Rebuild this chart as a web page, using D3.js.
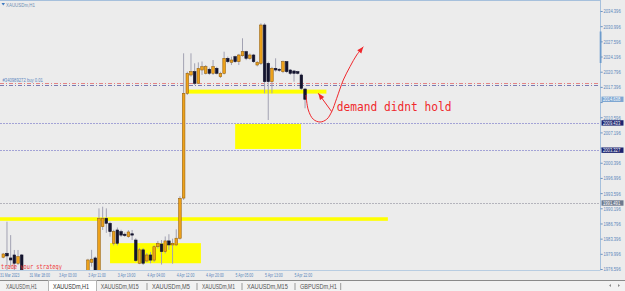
<!DOCTYPE html>
<html><head><meta charset="utf-8">
<script src="https://cdn.jsdelivr.net/npm/d3@7/dist/d3.min.js"></script>
<style>
html,body{margin:0;padding:0;background:#ececec;overflow:hidden}
svg{display:block}
</style></head><body>
<svg id="c" width="625" height="291"></svg>
<script>
// ---------------- DATA ----------------
const symbolTitle = "XAUUSDm,H1";
const orderLabel = "#340989272 buy 0.01";
// H1 candles, index 0 = first bar on screen (bars 6..22 are below the visible range)
const barOpen  = [1979.34,1980.23,1979.18,1979.85,1977.99,1979.85,null,null,null,null,null,null,null,null,null,null,null,null,null,null,null,null,null,1975.5,1978.2,1979.18,1975.5,1986.2,1988.07,1986.95,1982.47,1985.45,1985.07,1984.5,1983.95,1984.6,1983.2,1978.0,1981.0,1978.5,1979.85,1978.7,1981.7,1982.3,1980.6,1983.0,1982.1,1982.1,1983.6,1992.6,2016.07,2020.17,2020.91,2018.31,2021.29,2020.55,2021.45,2020.55,2021.67,2019.79,2020.55,2023.91,2023.02,2024.27,2023.15,2024.49,2025.39,2023.91,2024.65,2022.41,2022.79,2031.37,2022.79,2018.67,2021.67,2021.45,2020.91,2023.15,2021.29,2021.07,2020.91,2020.17,2017.03];
const barHigh  = [1980.3,1987.31,1984.3,1980.97,1980.97,1980.07,null,null,null,null,null,null,null,null,null,null,null,null,null,null,null,null,null,1979.0,1981.0,1979.5,1990.3,1990.67,1990.3,1987.3,1985.5,1986.0,1985.5,1984.9,1985.4,1985.45,1983.6,1981.4,1981.4,1980.3,1980.5,1982.0,1983.0,1983.2,1984.0,1984.5,1983.5,1985.6,1993.0,2025.03,2020.91,2025.03,2022.79,2023.0,2023.2,2022.4,2021.8,2023.53,2022.0,2020.9,2025.39,2024.3,2024.27,2024.5,2024.9,2028.39,2025.6,2025.0,2024.9,2023.3,2031.75,2031.75,2023.15,2022.0,2023.91,2021.7,2023.4,2023.3,2021.5,2021.3,2021.1,2020.5,2017.2];
const barLow   = [1979.1,1976.49,1977.23,1976.4,1977.6,1975.0,null,null,null,null,null,null,null,null,null,null,null,null,null,null,null,null,null,1975.0,1977.23,1975.0,1974.0,1985.45,1984.8,1983.95,1982.0,1982.0,1983.9,1983.9,1983.7,1983.2,1978.3,1977.8,1977.6,1978.2,1978.0,1978.3,1981.3,1977.7,1980.2,1981.0,1977.9,1981.9,1983.3,1992.17,2015.69,2019.79,2017.93,2018.3,2020.2,2020.3,2020.2,2020.17,2020.3,2019.5,2020.3,2022.8,2022.4,2022.9,2022.4,2024.27,2023.5,2023.6,2022.9,2022.1,2022.41,2016.07,2010.09,2016.07,2020.91,2020.9,2020.6,2020.6,2020.2,2018.67,2020.3,2016.8,2012.71];
const barClose = [1980.07,1979.63,1978.73,1977.99,1979.47,1976.0,null,null,null,null,null,null,null,null,null,null,null,null,null,null,null,null,null,1978.73,1978.9,1975.5,1988.07,1988.07,1986.95,1985.07,1985.07,1982.47,1984.3,1984.2,1985.0,1984.3,1978.6,1981.0,1978.0,1979.85,1978.7,1981.7,1982.47,1980.6,1983.0,1982.1,1982.47,1983.6,1992.5,2016.07,2020.55,2020.91,2018.31,2021.67,2022.03,2022.03,2020.55,2022.03,2020.55,2020.55,2023.91,2023.15,2023.53,2023.15,2024.65,2025.39,2023.91,2024.65,2023.15,2023.02,2031.37,2018.67,2018.67,2021.67,2021.29,2021.29,2023.15,2020.91,2020.55,2020.55,2020.55,2017.19,2014.73];

const priceTicks = [2034.396,2030.996,2027.596,2024.196,2020.796,2017.396,2013.996,2010.596,2007.196,2003.796,2000.396,1996.996,1993.596,1990.196,1986.796,1983.396,1979.996,1976.596];
const timeLabels = ["31 Mar 2023","31 Mar 18:00","3 Apr 03:00","3 Apr 11:00","3 Apr 19:00","4 Apr 04:00","4 Apr 12:00","4 Apr 20:00","5 Apr 05:00","5 Apr 13:00","5 Apr 22:00"];
const timeLabelBars = [0,8,16,24,32,40,48,56,64,72,80];

const levelPrices = [2009.433,2003.327,1991.491];
const levelKinds  = ["blue","blue","gray"];
const orderPrices = [2018.31,2017.86];
const orderKinds  = ["red","blue"];
const bidPrice = 2014.73;
const bidLabel = "2014.638";

const zoneStart  = [49.9,63.0,-1.5,29.0];
const zoneEnd    = [87.8,80.9,104.5,53.7];
const zoneTop    = [2016.9,2009.2,1988.3,1982.5];
const zoneBottom = [2016.0,2003.6,1987.5,1978.0];

const curveBars   = [82.26,82.88,84.24,86.06,87.88,89.24,90.6,92.39,94.21,96.03,97.83];
const curvePrices = [2015.69,2012.33,2010.25,2009.64,2010.25,2011.95,2014.95,2019.05,2022.03,2024.65,2026.51];
const arrow2Bars   = [89.24,85.6];
const arrow2Prices = [2011.95,2016.07];
const noteText = "demand didnt hold";
const noteBar = 90.6, notePrice = 2012.1;
const footerText = "trade your strategy";

const tabNames = ["XAUUSDm,H1","XAUUSDm,H1","XAUUSDm,M15","XAUUSDm,M5","XAUUSDm,M1","XAUUSDm,M15","GBPUSDm,H1"];
const activeTab = 1;

// ---------------- DRAW ----------------
const W = 625, H = 291;
const plotR = 600.5, plotT = 1, plotB = 270;
const svg = d3.select("#c");
svg.append("rect").attr("width",W).attr("height",H).attr("fill","#ececec");

const x = d3.scaleLinear().domain([0,82]).range([3.3,305.06]);
const y = d3.scaleLinear().domain([1976.596,2034.396]).range([269.5,11.5]);

svg.append("defs").append("clipPath").attr("id","plot")
  .append("rect").attr("x",0).attr("y",plotT).attr("width",plotR).attr("height",plotB-plotT);

// text drawn natural, then horizontally compressed by a transform (screenshot is squeezed)
function label(parent,px,py,str,size,family,fill,opt){
  opt=opt||{};
  const gg=parent.append("g").attr("transform",`translate(${px},${py})`);
  const t=gg.append("text").attr("x",0).attr("y",0).attr("font-family",family)
    .attr("font-size",size).attr("fill",fill).text(str);
  if(opt.anchor) t.attr("text-anchor",opt.anchor);
  const nat=t.node().getComputedTextLength();
  const sx = opt.width ? opt.width/nat : (opt.sx||1);
  gg.attr("transform",`translate(${px},${py}) scale(${sx},1)`);
  return t;
}
const SANS="Liberation Sans, Arial, sans-serif", MONO="DejaVu Sans Mono, monospace";

const g = svg.append("g").attr("clip-path","url(#plot)");

// zones
g.selectAll("rect.zone").data(zoneStart.map((s,i)=>i)).join("rect")
  .attr("class","zone")
  .attr("x",i=>x(zoneStart[i]))
  .attr("width",i=>x(zoneEnd[i])-x(zoneStart[i]))
  .attr("y",i=>y(zoneTop[i]))
  .attr("height",i=>y(zoneBottom[i])-y(zoneTop[i]))
  .attr("fill","#ffff00");

// dotted levels
g.selectAll("line.lvl").data(levelPrices).join("line")
  .attr("x1",0).attr("x2",plotR)
  .attr("y1",d=>Math.round(y(d))+0.5).attr("y2",d=>Math.round(y(d))+0.5)
  .attr("stroke",(d,i)=>levelKinds[i]==="blue"?"#a3a3d6":"#b4b4bc")
  .attr("stroke-width",1).attr("stroke-dasharray","2,1");

// order lines
g.selectAll("line.ord").data(orderPrices).join("line")
  .attr("x1",0).attr("x2",plotR)
  .attr("y1",d=>Math.round(y(d))+0.5).attr("y2",d=>Math.round(y(d))+0.5)
  .attr("stroke",(d,i)=>orderKinds[i]==="red"?"#e48585":"#7a7ab2")
  .attr("stroke-width",1).attr("stroke-dasharray","4,2,1,2");

label(svg,2.5,y(orderPrices[0])-1.4,orderLabel,5.5,SANS,"#5b86c0",{width:40.5});

// candles
const idx = barOpen.map((d,i)=>i).filter(i=>barOpen[i]!==null);
const cg = g.append("g");
cg.selectAll("line.wick").data(idx).join("line")
  .attr("x1",i=>x(i)).attr("x2",i=>x(i))
  .attr("y1",i=>y(barHigh[i])).attr("y2",i=>y(barLow[i]))
  .attr("stroke","#a2a2b2").attr("stroke-width",1);
cg.selectAll("rect.body").data(idx).join("rect")
  .attr("x",i=>x(i)-1.3).attr("width",2.6)
  .attr("y",i=>y(Math.max(barOpen[i],barClose[i])))
  .attr("height",i=>Math.max(1,Math.abs(y(barOpen[i])-y(barClose[i]))))
  .attr("fill",i=>barClose[i]>=barOpen[i]?"#eea21a":"#14142e")
  .attr("stroke",i=>barClose[i]>=barOpen[i]?"#9a6410":"#14142e")
  .attr("stroke-width",0.6);

// annotation
const RED="#f0282d";
const line = d3.line().curve(d3.curveCatmullRom.alpha(0.5));
const curvePts = curveBars.map((b,i)=>[x(b),y(curvePrices[i])]);
g.append("path").attr("d",line(curvePts)).attr("fill","none").attr("stroke",RED).attr("stroke-width",1);
function arrowHead(p0,p1){
  const a = Math.atan2(p1[1]-p0[1],p1[0]-p0[0]);
  const L=6.5, Wd=2.6;
  const bx=p1[0]-L*Math.cos(a), by=p1[1]-L*Math.sin(a);
  const pts=[p1,[bx+Wd*Math.sin(a),by-Wd*Math.cos(a)],[bx-Wd*Math.sin(a),by+Wd*Math.cos(a)]];
  g.append("path").attr("d","M"+pts.map(p=>p.join(",")).join("L")+"Z").attr("fill",RED);
}
arrowHead(curvePts[curvePts.length-2],curvePts[curvePts.length-1]);
const a2 = arrow2Bars.map((b,i)=>[x(b),y(arrow2Prices[i])]);
g.append("line").attr("x1",a2[0][0]).attr("y1",a2[0][1]).attr("x2",a2[1][0]).attr("y2",a2[1][1])
  .attr("stroke",RED).attr("stroke-width",1);
arrowHead(a2[0],a2[1]);

label(svg,x(noteBar),y(notePrice),noteText,13,MONO,RED,{width:115});
label(svg,1,268.5,footerText,7,MONO,"#ee3a3a",{width:61});

// title
svg.append("path").attr("d","M1.5,3 L5,3 L3.25,5.5 Z").attr("fill","#3c78c0");
label(svg,6,6.6,symbolTitle,5.5,SANS,"#7090b4",{width:29});

// frame
svg.append("line").attr("x1",0).attr("x2",plotR).attr("y1",0.5).attr("y2",0.5).attr("stroke","#a6c0dc");
svg.append("line").attr("x1",plotR).attr("x2",plotR).attr("y1",0).attr("y2",plotB).attr("stroke","#a6c0dc");
svg.append("line").attr("x1",0).attr("x2",plotR).attr("y1",plotB+0.5).attr("y2",plotB+0.5).attr("stroke","#b8cde2");
svg.append("rect").attr("x",plotR-0.8).attr("y",31.5).attr("width",1.8).attr("height",31.5).attr("fill","#6d9bcc");

// price axis
const tagPrices = [bidPrice].concat(levelPrices);
const shownTicks = priceTicks.filter(t=>tagPrices.every(p=>Math.abs(y(t)-y(p))>4.5));
const pa = svg.append("g");
pa.selectAll("line").data(priceTicks).join("line")
  .attr("x1",plotR).attr("x2",plotR+2.2).attr("y1",d=>y(d)).attr("y2",d=>y(d)).attr("stroke","#6f95c2");
shownTicks.forEach(d=>label(pa,603.5,y(d)+1.9,d.toFixed(3),5.4,SANS,"#5a86bb",{width:17.2}));

// price tags
function tag(price,text,bg){
  const yy=y(price);
  svg.append("rect").attr("x",601.5).attr("y",yy-2.7).attr("width",22).attr("height",5.4).attr("fill",bg);
  label(svg,603,yy+1.9,text,5.4,SANS,"#ffffff",{width:17.2});
}
tag(bidPrice,bidLabel,"#7ea6d2");
levelPrices.forEach((p,i)=>tag(p,p.toFixed(3),levelKinds[i]==="blue"?"#1c2470":"#6e7a8e"));

// time axis
timeLabels.forEach((d,i)=>label(svg,x(timeLabelBars[i])-3.3,277.3,d,5.6,SANS,"#5a86bb",{sx:0.62}));

// tab bar
svg.append("rect").attr("x",0).attr("y",280).attr("width",W).attr("height",11).attr("fill","#f2f2f2");
svg.append("line").attr("x1",0).attr("x2",W).attr("y1",280.5).attr("y2",280.5).attr("stroke","#8a8a8a");
const tabX = [6,53,100.7,152,202,247,300];
const tabW = [31,36,38,38,33,41,37];
svg.append("rect").attr("x",48.5).attr("y",280.5).attr("width",48).attr("height",11).attr("fill","#ffffff").attr("stroke","#b4b4b4");
tabNames.forEach((n,i)=>label(svg,tabX[i],288.8,n,8,SANS,i===activeTab?"#333":"#555",{width:tabW[i]}));
[147,197,242,295,340.7].forEach(sx=>{
  svg.append("line").attr("x1",sx).attr("x2",sx).attr("y1",283).attr("y2",290).attr("stroke","#9a9a9a");
});
svg.append("path").attr("d","M609,285.5 L611,284 L611,287 Z").attr("fill","#8a8a8a");
svg.append("path").attr("d","M620,285.5 L618,284 L618,287 Z").attr("fill","#8a8a8a");
</script>
</body></html>
